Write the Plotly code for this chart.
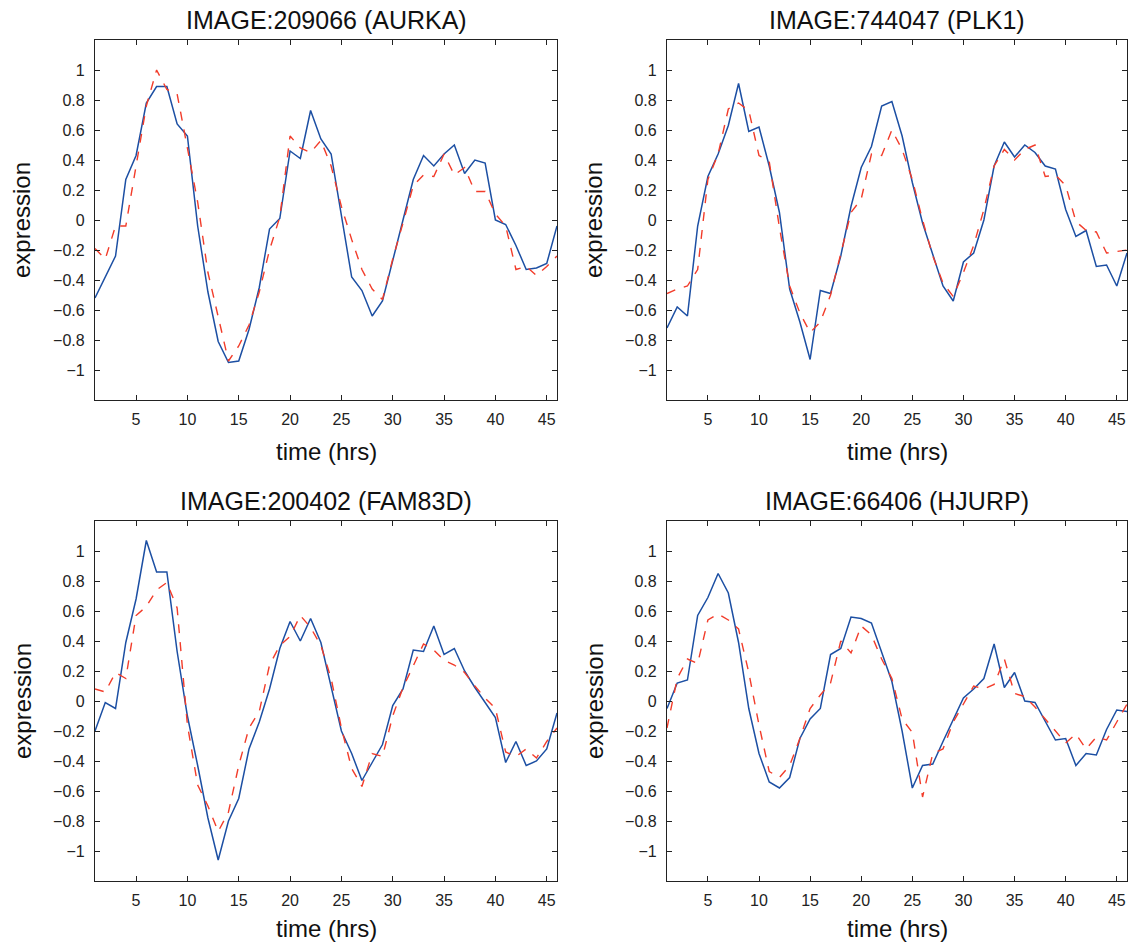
import plotly.graph_objects as go

hours = list(range(1, 47))

titles = ["IMAGE:209066 (AURKA)", "IMAGE:744047 (PLK1)",
          "IMAGE:200402 (FAM83D)", "IMAGE:66406 (HJURP)"]

aurka_obs = [-0.52, -0.38, -0.24, 0.27, 0.43, 0.78, 0.89, 0.89, 0.64, 0.56,
             -0.04, -0.48, -0.81, -0.95, -0.94, -0.73, -0.45, -0.06, 0.01, 0.46,
             0.41, 0.73, 0.54, 0.44, 0.03, -0.38, -0.47, -0.64, -0.54, -0.26,
             0.00, 0.27, 0.43, 0.36, 0.44, 0.50, 0.31, 0.40, 0.38, 0.00,
             -0.03, -0.17, -0.33, -0.32, -0.29, -0.04]
aurka_fit = [-0.19, -0.26, -0.04, -0.04, 0.36, 0.76, 1.00, 0.87, 0.84, 0.47,
             0.12, -0.35, -0.65, -0.94, -0.84, -0.70, -0.48, -0.20, 0.02, 0.56,
             0.48, 0.45, 0.53, 0.36, 0.09, -0.13, -0.33, -0.46, -0.53, -0.26,
             -0.02, 0.23, 0.30, 0.29, 0.44, 0.30, 0.35, 0.19, 0.19, 0.04,
             -0.04, -0.33, -0.31, -0.37, -0.31, -0.24]

plk1_obs = [-0.72, -0.58, -0.64, -0.04, 0.29, 0.44, 0.63, 0.91, 0.59, 0.62,
            0.36, 0.05, -0.46, -0.68, -0.93, -0.47, -0.49, -0.24, 0.09, 0.35,
            0.49, 0.76, 0.79, 0.56, 0.25, -0.02, -0.23, -0.44, -0.54, -0.28,
            -0.22, 0.00, 0.36, 0.52, 0.42, 0.50, 0.45, 0.36, 0.34, 0.07,
            -0.11, -0.07, -0.31, -0.30, -0.44, -0.22]
plk1_fit = [-0.49, -0.46, -0.44, -0.33, 0.27, 0.44, 0.74, 0.78, 0.73, 0.43,
            0.39, -0.05, -0.44, -0.62, -0.75, -0.68, -0.50, -0.22, 0.05, 0.14,
            0.44, 0.43, 0.60, 0.47, 0.27, 0.00, -0.24, -0.42, -0.51, -0.35,
            -0.17, 0.07, 0.36, 0.47, 0.40, 0.47, 0.50, 0.29, 0.30, 0.23,
            -0.01, -0.07, -0.08, -0.22, -0.21, -0.20]

fam83d_obs = [-0.20, -0.01, -0.05, 0.39, 0.68, 1.07, 0.86, 0.86, 0.33, -0.10,
              -0.43, -0.78, -1.06, -0.80, -0.65, -0.32, -0.14, 0.08, 0.35, 0.53,
              0.40, 0.55, 0.39, 0.10, -0.20, -0.35, -0.53, -0.41, -0.29, -0.03,
              0.08, 0.34, 0.33, 0.50, 0.31, 0.35, 0.20, 0.09, -0.01, -0.11,
              -0.41, -0.27, -0.43, -0.40, -0.32, -0.08]
fam83d_fit = [0.08, 0.06, 0.19, 0.15, 0.57, 0.63, 0.74, 0.79, 0.62, -0.16,
              -0.56, -0.70, -0.87, -0.74, -0.43, -0.18, -0.07, 0.24, 0.37, 0.43,
              0.57, 0.49, 0.37, 0.15, -0.18, -0.45, -0.57, -0.35, -0.37, -0.10,
              0.09, 0.24, 0.38, 0.34, 0.27, 0.24, 0.19, 0.10, 0.02, -0.05,
              -0.34, -0.37, -0.32, -0.38, -0.27, -0.18]

hjurp_obs = [-0.05, 0.12, 0.14, 0.57, 0.69, 0.85, 0.72, 0.39, -0.05, -0.35,
             -0.54, -0.58, -0.51, -0.25, -0.12, -0.05, 0.31, 0.35, 0.56, 0.55,
             0.52, 0.33, 0.13, -0.20, -0.58, -0.43, -0.42, -0.27, -0.12, 0.02,
             0.08, 0.15, 0.38, 0.09, 0.19, 0.00, -0.01, -0.14, -0.26, -0.25,
             -0.43, -0.35, -0.36, -0.19, -0.06, -0.07]
hjurp_fit = [-0.18, 0.15, 0.28, 0.25, 0.54, 0.58, 0.54, 0.48, 0.19, -0.16,
             -0.47, -0.51, -0.43, -0.25, -0.05, 0.04, 0.12, 0.40, 0.32, 0.50,
             0.44, 0.28, 0.15, -0.12, -0.21, -0.64, -0.35, -0.32, -0.14, -0.02,
             0.10, 0.08, 0.11, 0.28, 0.05, 0.03, -0.04, -0.12, -0.20, -0.28,
             -0.22, -0.32, -0.24, -0.26, -0.14, -0.02]

observed = [aurka_obs, plk1_obs, fam83d_obs, hjurp_obs]
fitted = [aurka_fit, plk1_fit, fam83d_fit, hjurp_fit]

x_ticks = [5, 10, 15, 20, 25, 30, 35, 40, 45]
y_ticks = [1, 0.8, 0.6, 0.4, 0.2, 0, -0.2, -0.4, -0.6, -0.8, -1]
y_tick_text = ["1", "0.8", "0.6", "0.4", "0.2", "0", "\u22120.2", "\u22120.4",
               "\u22120.6", "\u22120.8", "\u22121"]

W, H = 1129, 943
FONT = "Liberation Sans, Arial, Helvetica, sans-serif"
BLUE = "#1c4fa3"
RED = "#f23c2a"

# plot-area boxes in pixels: (left, right, top, bottom)
boxes = [(95, 557, 40, 400), (667, 1127, 40, 400),
         (95, 557, 521, 881), (667, 1127, 521, 881)]
xlabel_offset = [52, 52, 47, 47]

fig = go.Figure()
annotations = []
for i in range(4):
    l, r, t, b = boxes[i]
    n = "" if i == 0 else str(i + 1)
    xa, ya = "x" + n, "y" + n
    fig.add_trace(go.Scatter(x=hours, y=observed[i], mode="lines",
                             line=dict(color=BLUE, width=1.5),
                             xaxis=xa, yaxis=ya, showlegend=False))
    fig.add_trace(go.Scatter(x=hours, y=fitted[i], mode="lines",
                             line=dict(color=RED, width=1.4, dash="dash"),
                             xaxis=xa, yaxis=ya, showlegend=False))
    axis_common = dict(showgrid=False, zeroline=False, showline=True,
                       linecolor="#222222", linewidth=1.2, mirror="ticks",
                       ticks="inside", ticklen=5, tickcolor="#222222",
                       tickfont=dict(family=FONT, size=16, color="#222222"))
    fig.update_layout(**{
        "xaxis" + n: dict(domain=[l / W, r / W], range=[1, 46],
                          tickvals=x_ticks, anchor=ya, ticklabelstandoff=5,
                          **axis_common),
        "yaxis" + n: dict(domain=[1 - b / H, 1 - t / H], range=[-1.2, 1.2],
                          tickvals=y_ticks, ticktext=y_tick_text,
                          anchor=xa, ticklabelstandoff=6, **axis_common),
    })
    cx = (l + r) / 2 / W
    annotations.append(dict(text=titles[i], x=cx, y=1 - (t - 20) / H,
                            xref="paper", yref="paper", showarrow=False,
                            xanchor="center", yanchor="middle",
                            font=dict(family=FONT, size=25, color="#111111")))
    annotations.append(dict(text="time (hrs)", x=cx,
                            y=1 - (b + xlabel_offset[i]) / H,
                            xref="paper", yref="paper", showarrow=False,
                            xanchor="center", yanchor="middle",
                            font=dict(family=FONT, size=24, color="#111111")))
    annotations.append(dict(text="expression", x=(l - 73) / W,
                            y=1 - (t + b) / 2 / H,
                            xref="paper", yref="paper", showarrow=False,
                            textangle=-90, xanchor="center", yanchor="middle",
                            font=dict(family=FONT, size=24, color="#111111")))

fig.update_layout(width=W, height=H, margin=dict(l=0, r=0, t=0, b=0),
                  paper_bgcolor="white", plot_bgcolor="white",
                  annotations=annotations)

fig.write_html("out.html", config={"displayModeBar": False},
               post_script="document.body.style.margin='0';"
                           "document.body.style.overflow='hidden';")
